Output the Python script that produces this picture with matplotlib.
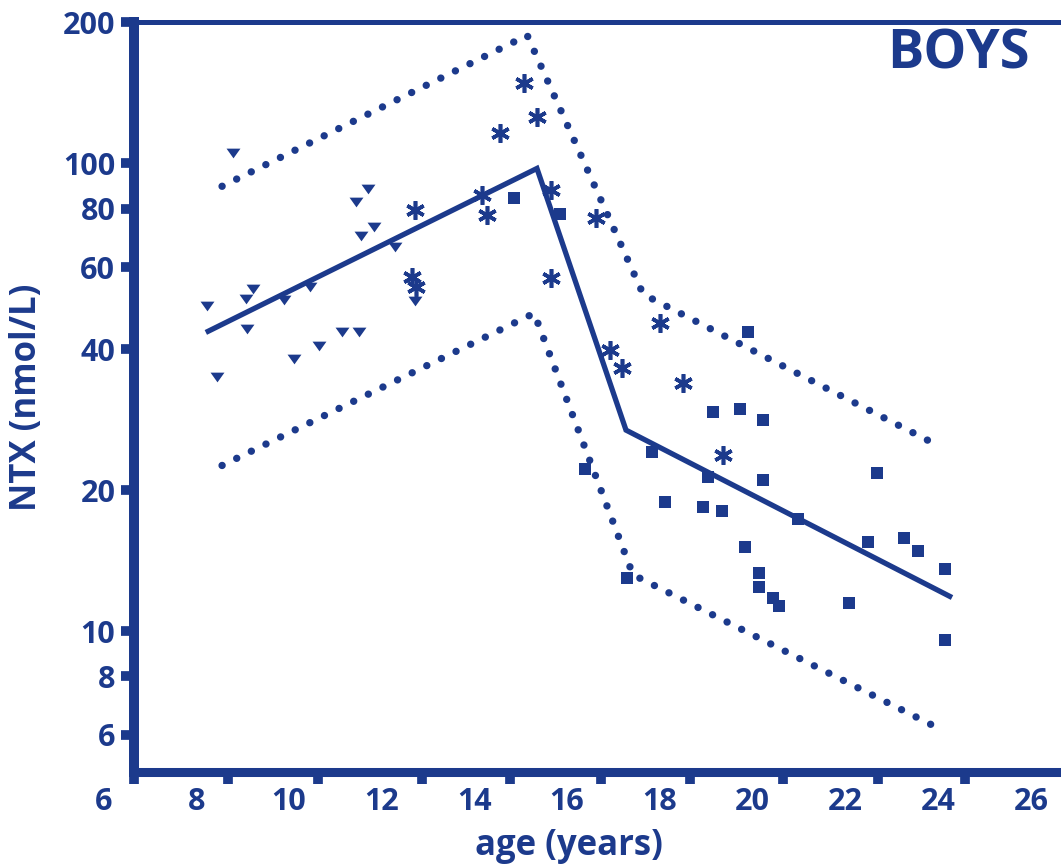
import matplotlib
matplotlib.use("Agg")
import matplotlib.pyplot as plt
from matplotlib.ticker import FixedLocator, NullLocator, FixedFormatter

NAVY = "#1c3a8c"

# values (age in years, NTX in nmol/L)
tri_age = [8.80, 11.71, 11.45, 11.84, 11.56, 12.29, 8.24, 9.23, 9.08, 9.90,
           10.46, 9.10, 11.15, 11.51, 10.65, 10.11, 8.45, 12.72]
tri_ntx = [105.0, 88.0, 82.5, 73.0, 69.8, 66.2, 49.5, 53.8, 51.4, 51.0,
           54.3, 44.2, 43.5, 43.5, 40.6, 38.1, 34.9, 50.7]

star_age = [15.07, 15.35, 14.56, 12.72, 14.17, 14.27, 15.65, 15.65, 12.66,
            12.74, 16.63, 18.01, 16.93, 17.19, 18.50, 19.36]
star_ntx = [148.2, 125.4, 115.9, 79.4, 85.4, 77.4, 87.6, 56.8, 57.1,
            54.3, 76.3, 45.5, 39.8, 36.6, 33.9, 23.8]

sq_age = [14.86, 15.85, 19.90, 19.15, 19.73, 20.23, 17.83, 16.39, 19.04,
          20.23, 22.69, 18.11, 18.93, 19.34, 20.98, 19.84, 22.49, 23.27,
          23.57, 24.15, 20.14, 20.14, 20.44, 20.57, 22.08, 17.29, 24.15]
sq_ntx = [84.2, 77.8, 43.5, 29.4, 29.8, 28.2, 24.2, 22.2, 21.4,
          21.0, 21.8, 18.9, 18.4, 18.1, 17.4, 15.1, 15.5, 15.8,
          14.8, 13.6, 13.3, 12.4, 11.8, 11.3, 11.5, 13.0, 9.57]

fit_age = [8.21, 15.35, 17.27, 24.30]
fit_ntx = [43.5, 97.5, 26.9, 11.8]
upper_age = [8.56, 15.14, 17.64, 23.94]
upper_ntx = [89.3, 187.7, 52.5, 25.1]
lower_age = [8.56, 15.29, 17.42, 23.87]
lower_ntx = [22.6, 47.8, 13.2, 6.3]

x_labels = list(range(6, 27, 2))
x_marks = [6.66, 8.69, 10.63, 12.87, 14.77, 16.73, 18.64, 20.66, 22.71, 24.58]
y_ticks = [6, 8, 10, 20, 40, 60, 80, 100, 200]

plt.rcParams["font.family"] = ["Open Sans", "DejaVu Sans"]
plt.rcParams["font.weight"] = "bold"
plt.rcParams["axes.labelweight"] = "bold"

fig = plt.figure(figsize=(10.61, 8.64), dpi=100)
ax = fig.add_axes([0.0974, 0.1065, 0.9026, 0.8675])
ax.set_yscale("log")
ax.set_xlim(6, 26.65)
ax.set_ylim(5, 200)

# flat downward triangle
tri = [(-1, 0.7), (1, 0.7), (0, -0.7), (-1, 0.7)]
ax.plot(tri_age, tri_ntx, ls="none", marker=tri, ms=10, color=NAVY, mew=0)
ax.plot(sq_age, sq_ntx, ls="none", marker="s", ms=8, color=NAVY, mew=0)
ax.plot(star_age, star_ntx, ls="none", marker=(6, 2, 0), ms=13.5, mew=2.6,
        color=NAVY)

dots = (0, (0.01, 2.2))
ax.plot(upper_age, upper_ntx, color=NAVY, lw=5.3, ls=dots,
        dash_capstyle="round")
ax.plot(lower_age, lower_ntx, color=NAVY, lw=5.3, ls=dots,
        dash_capstyle="round")
ax.plot(fit_age, fit_ntx, color=NAVY, lw=3.8, solid_capstyle="butt",
        solid_joinstyle="miter")

# spines
ax.spines["right"].set_visible(False)
ax.spines["left"].set_position(("data", 6.66))
ax.spines["left"].set_linewidth(7.2)
ax.spines["bottom"].set_linewidth(6.5)
ax.spines["top"].set_linewidth(3.6)
for s in ["left", "bottom", "top"]:
    ax.spines[s].set_color(NAVY)
ax.spines["top"].set_bounds(6.66, 26.65)
ax.spines["bottom"].set_bounds(6.66, 26.65)

# y axis
ax.yaxis.set_major_locator(FixedLocator(y_ticks))
ax.yaxis.set_major_formatter(FixedFormatter([str(v) for v in y_ticks]))
ax.yaxis.set_minor_locator(NullLocator())
ax.tick_params(axis="y", which="major", length=9.4, width=7.0, color=NAVY,
               labelcolor=NAVY, labelsize=22, pad=4)

# x axis: labels without marks, marks between labels
ax.xaxis.set_major_locator(FixedLocator(x_labels))
ax.xaxis.set_minor_locator(FixedLocator(x_marks))
ax.tick_params(axis="x", which="major", length=0, labelcolor=NAVY,
               labelsize=22, pad=11)
ax.tick_params(axis="x", which="minor", length=8.6, width=7.0, color=NAVY)

ax.set_xlabel("age (years)", fontsize=25, color=NAVY, va="center")
ax.xaxis.set_label_coords(0.4862, -0.0987)
ax.set_ylabel("NTX (nmol/L)", fontsize=25, color=NAVY, va="center")
ax.yaxis.set_label_coords(-0.080, 0.5)

ax.text(0.8925, 0.957, "BOYS", transform=ax.transAxes, fontsize=39,
        color=NAVY, ha="center", va="center")

fig.savefig("out.png", dpi=100)
